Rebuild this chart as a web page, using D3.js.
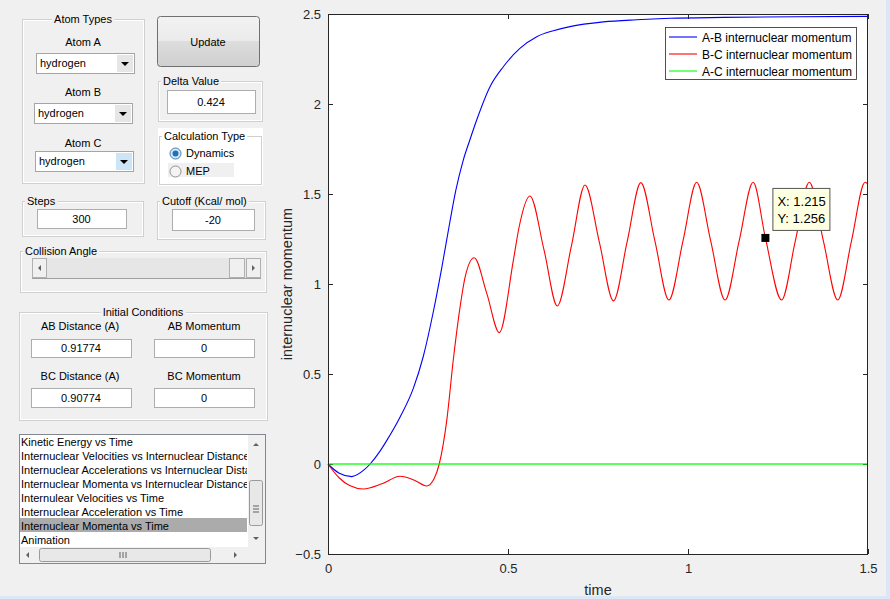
<!DOCTYPE html>
<html lang="en">
<head>
  <meta charset="UTF-8">
  <script src="https://d3js.org/d3.v7.min.js"></script>
  <title>Internuclear Momenta vs Time</title>
  <style>
    html, body { margin: 0; padding: 0; background: #f0f0f0; overflow: hidden; }
    text { font-family: "Liberation Sans", Arial, sans-serif; }
  </style>
</head>
<body>
  <script>
    // data
    const timeAB = [0, 0.03, 0.066, 0.1, 0.117, 0.144, 0.163, 0.2, 0.237, 0.265, 0.293, 0.316, 0.339, 0.355, 0.376, 0.394, 0.413, 0.45, 0.487, 0.533, 0.58, 0.626, 0.672, 0.765, 0.857, 0.95, 1.1, 1.3, 1.5]
    const momentumAB = [0, -0.05, -0.07, -0.033, 0, 0.07, 0.13, 0.26, 0.42, 0.6, 0.85, 1.09, 1.35, 1.52, 1.69, 1.8, 1.911, 2.096, 2.207, 2.309, 2.374, 2.407, 2.43, 2.456, 2.468, 2.476, 2.481, 2.485, 2.487]

    const timeBC = [0, 0.03, 0.06, 0.098, 0.15, 0.2, 0.24, 0.274, 0.295, 0.309, 0.33, 0.348, 0.367, 0.381, 0.406, 0.441, 0.476, 0.515, 0.531, 0.561, 0.6, 0.637, 0.676, 0.714, 0.754, 0.793, 0.831, 0.869, 0.908, 0.947, 0.986, 1.024, 1.063, 1.103, 1.142, 1.181, 1.215, 1.26, 1.298, 1.337, 1.376, 1.416, 1.454, 1.492, 1.5]
    const momentumBC = [0, -0.075, -0.12, -0.139, -0.11, -0.068, -0.09, -0.122, -0.08, 0, 0.244, 0.578, 0.874, 1.04, 1.146, 0.948, 0.73, 1.133, 1.318, 1.489, 1.19, 0.878, 1.21, 1.55, 1.23, 0.906, 1.235, 1.563, 1.24, 0.911, 1.238, 1.565, 1.24, 0.911, 1.238, 1.565, 1.256, 0.911, 1.238, 1.565, 1.24, 0.911, 1.238, 1.565, 1.555]

    const timeAC = [0, 1.5]
    const momentumAC = [0, 0]

    const seriesNames = ["A-B internuclear momentum", "B-C internuclear momentum", "A-C internuclear momentum"]
    const seriesColors = ["#0000ff", "#ff0000", "#00ff00"]
    const xTicks = [0, 0.5, 1, 1.5]
    const yTicks = [-0.5, 0, 0.5, 1, 1.5, 2, 2.5]
    const tipX = 1.215
    const tipY = 1.256

    const plotItems = ["Kinetic Energy vs Time", "Internuclear Velocities vs Internuclear Distance",
      "Internuclear Accelerations vs Internuclear Distance", "Internuclear Momenta vs Internuclear Distance",
      "Internulear Velocities vs Time", "Internuclear Acceleration vs Time",
      "Internuclear Momenta vs Time", "Animation"]

    const W = 890, H = 599
    const svg = d3.select("body").append("svg")
        .attr("width", W).attr("height", H)

    svg.append("rect").attr("width", W).attr("height", H).attr("fill", "#f0f0f0")
    // window frame edges
    svg.append("rect").attr("x", 0).attr("y", 596).attr("width", W).attr("height", 3).attr("fill", "#dbe7f4")
    svg.append("rect").attr("x", 886).attr("y", 0).attr("width", 4).attr("height", H).attr("fill", "#dbe7f4")

    // ---------- GUI widgets ----------
    const gui = svg.append("g").style("font-size", "11px")

    function panel(x, y, w, h, title, align, fill) {
      gui.append("rect").attr("x", x + 0.5).attr("y", y + 0.5).attr("width", w).attr("height", h)
          .attr("fill", fill || "none").attr("stroke", "#d0d0d0")
      gui.append("rect").attr("x", x + 1.5).attr("y", y + 1.5).attr("width", w - 2).attr("height", h - 2)
          .attr("fill", "none").attr("stroke", "#ffffff")
      const t = gui.append("text").attr("y", y + 4).attr("fill", "#000").text(title)
      if (align === "center") t.attr("x", x + w / 2).attr("text-anchor", "middle")
      else t.attr("x", x + 5)
      const bb = t.node().getBBox()
      gui.append("rect").attr("x", bb.x - 2).attr("y", y - 2).attr("width", bb.width + 4).attr("height", 5)
          .attr("fill", fill || "#f0f0f0")
      t.raise()
    }

    function label(x, y, s) {
      gui.append("text").attr("x", x).attr("y", y).attr("text-anchor", "middle").attr("fill", "#000").text(s)
    }

    function edit(x, y, w, h, s) {
      gui.append("rect").attr("x", x + 0.5).attr("y", y + 0.5).attr("width", w).attr("height", h)
          .attr("fill", "#fff").attr("stroke", "#adadad")
      gui.append("text").attr("x", x + w / 2).attr("y", y + h / 2 + 4).attr("text-anchor", "middle")
          .attr("fill", "#000").text(s)
    }

    function popup(x, y, w, h, s, hot) {
      gui.append("rect").attr("x", x + 0.5).attr("y", y + 0.5).attr("width", w).attr("height", h)
          .attr("fill", "#fff").attr("stroke", "#a5a5a5")
      gui.append("rect").attr("x", x + w - 17).attr("y", y + 2).attr("width", 16).attr("height", h - 3)
          .attr("fill", hot ? "#cde6f7" : "#e6e6e6")
      gui.append("path").attr("d", `M${x + w - 13},${y + h / 2 - 1}h8l-4,4z`).attr("fill", "#000")
      gui.append("text").attr("x", x + 4).attr("y", y + h / 2 + 4).attr("fill", "#000").text(s)
    }

    // Atom Types
    panel(22, 19, 122, 164, "Atom Types", "center")
    label(83, 46, "Atom A")
    popup(36, 53, 98, 20, "hydrogen")
    label(83, 96, "Atom B")
    popup(34, 103, 98, 20, "hydrogen")
    label(83, 147, "Atom C")
    popup(35, 151, 98, 20, "hydrogen", true)

    // Update button
    const grad = svg.append("defs").append("linearGradient").attr("id", "btn")
        .attr("x1", 0).attr("y1", 0).attr("x2", 0).attr("y2", 1)
    grad.append("stop").attr("offset", "0%").attr("stop-color", "#f2f2f2")
    grad.append("stop").attr("offset", "48%").attr("stop-color", "#ebebeb")
    grad.append("stop").attr("offset", "50%").attr("stop-color", "#dddddd")
    grad.append("stop").attr("offset", "100%").attr("stop-color", "#cfcfcf")
    gui.append("rect").attr("x", 157.5).attr("y", 16.5).attr("width", 102).attr("height", 50).attr("rx", 3)
        .attr("fill", "url(#btn)").attr("stroke", "#707070")
    label(208, 46, "Update")

    panel(158, 81, 104, 40, "Delta Value")
    edit(167, 90, 88, 23, "0.424")

    // Calculation Type
    gui.append("rect").attr("x", 158).attr("y", 128).attr("width", 105).attr("height", 58).attr("fill", "#fff")
    panel(159, 136, 102, 48, "Calculation Type", null, "#fff")
    gui.append("rect").attr("x", 168).attr("y", 163).attr("width", 66).attr("height", 14).attr("fill", "#f0f0f0")
    gui.append("circle").attr("cx", 175.5).attr("cy", 153.5).attr("r", 5.5).attr("fill", "#dbe6f0").attr("stroke", "#3c7fb1")
    gui.append("circle").attr("cx", 175.5).attr("cy", 153.5).attr("r", 3).attr("fill", "#1e6fc0")
    gui.append("circle").attr("cx", 175.5).attr("cy", 171.5).attr("r", 5.5).attr("fill", "#f4f4f4").attr("stroke", "#8e8f8f")
    gui.append("text").attr("x", 186).attr("y", 157).attr("fill", "#000").text("Dynamics")
    gui.append("text").attr("x", 186).attr("y", 175).attr("fill", "#000").text("MEP")

    panel(22, 201, 121, 35, "Steps")
    edit(37, 209, 89, 19, "300")
    panel(157, 201, 108, 38, "Cutoff (Kcal/ mol)")
    edit(172, 209, 82, 21, "-20")

    // Collision Angle slider
    panel(20, 251, 246, 41, "Collision Angle")
    gui.append("rect").attr("x", 32).attr("y", 258).attr("width", 229).attr("height", 20).attr("fill", "#e6e6e6")
    gui.append("line").attr("x1", 32).attr("x2", 261).attr("y1", 278.5).attr("y2", 278.5).attr("stroke", "#a0a0a0")
    gui.append("rect").attr("x", 32.5).attr("y", 258.5).attr("width", 14).attr("height", 19).attr("fill", "#f0f0f0").attr("stroke", "#b0b0b0")
    gui.append("rect").attr("x", 229.5).attr("y", 258.5).attr("width", 15).attr("height", 19).attr("fill", "#f0f0f0").attr("stroke", "#b0b0b0")
    gui.append("rect").attr("x", 246.5).attr("y", 258.5).attr("width", 14).attr("height", 19).attr("fill", "#f0f0f0").attr("stroke", "#b0b0b0")
    gui.append("path").attr("d", "M38,268l3,-3v6z").attr("fill", "#606060")
    gui.append("path").attr("d", "M255,268l-3,-3v6z").attr("fill", "#606060")

    // Initial Conditions
    panel(19, 312, 248, 108, "Initial Conditions", "center")
    label(80, 330, "AB Distance (A)")
    label(204, 330, "AB Momentum")
    edit(31, 339, 100, 18, "0.91774")
    edit(154, 339, 100, 18, "0")
    label(80, 380, "BC Distance (A)")
    label(204, 380, "BC Momentum")
    edit(31, 388, 100, 19, "0.90774")
    edit(154, 388, 100, 19, "0")

    // list box
    gui.append("rect").attr("x", 19.5).attr("y", 434.5).attr("width", 246).attr("height", 129)
        .attr("fill", "#fff").attr("stroke", "#828790")
    gui.append("rect").attr("x", 20).attr("y", 518).attr("width", 227).attr("height", 14).attr("fill", "#ababab")
    const clip = svg.append("clipPath").attr("id", "listclip")
    clip.append("rect").attr("x", 20).attr("y", 435).attr("width", 227).attr("height", 112)
    gui.append("g").attr("clip-path", "url(#listclip)")
      .selectAll("text").data(plotItems).join("text")
        .attr("x", 21).attr("y", (d, i) => 446 + i * 14)
        .attr("fill", "#000").text(d => d)
    // scrollbars
    gui.append("rect").attr("x", 248).attr("y", 435).attr("width", 17).attr("height", 112).attr("fill", "#f0f0f0")
    gui.append("rect").attr("x", 249.5).attr("y", 480.5).attr("width", 13).attr("height", 45).attr("rx", 2)
        .attr("fill", "#e8e8e8").attr("stroke", "#9a9a9a")
    gui.append("path").attr("d", "M253,512h6M253,509h6M253,506h6").attr("stroke", "#606060")
    gui.append("path").attr("d", "M256,443l-3,3h6z").attr("fill", "#606060")
    gui.append("path").attr("d", "M256,540l-3,-3h6z").attr("fill", "#606060")
    gui.append("rect").attr("x", 20).attr("y", 547).attr("width", 245).attr("height", 16).attr("fill", "#f0f0f0")
    gui.append("rect").attr("x", 39.5).attr("y", 548.5).attr("width", 171).attr("height", 13).attr("rx", 2)
        .attr("fill", "#e8e8e8").attr("stroke", "#9a9a9a")
    gui.append("path").attr("d", "M120,552v6M123,552v6M126,552v6").attr("stroke", "#606060")
    gui.append("path").attr("d", "M26,555l3,-3v6z").attr("fill", "#606060")
    gui.append("path").attr("d", "M237,555l-3,-3v6z").attr("fill", "#606060")

    // ---------- Plot ----------
    const dim = { left: 328, top: 14, width: 540, height: 540 }

    const xScale = d3.scaleLinear().domain([0, 1.5]).range([0, dim.width])
    const yScale = d3.scaleLinear().domain([-0.5, 2.5]).range([dim.height, 0])

    const bounds = svg.append("g").attr("transform", `translate(${dim.left},${dim.top})`)
    bounds.append("rect").attr("width", dim.width).attr("height", dim.height).attr("fill", "#fff")

    const axisColor = "#262626"
    function styleAxis(g) {
      g.select(".domain").remove()
      g.selectAll("line").attr("stroke", axisColor)
      g.selectAll("text").attr("fill", axisColor).style("font-size", "13px")
        .style("font-family", "'Liberation Sans', Arial, sans-serif")
    }

    bounds.append("g").attr("transform", `translate(0,${dim.height})`)
        .call(d3.axisBottom(xScale).tickValues(xTicks).tickSize(-5).tickPadding(10).tickFormat(d3.format("")))
        .call(styleAxis)
    bounds.append("g")
        .call(d3.axisLeft(yScale).tickValues(yTicks).tickSize(-5).tickPadding(7).tickFormat(d3.format("")))
        .call(styleAxis)
    bounds.append("g")
        .call(d3.axisTop(xScale).tickValues(xTicks).tickSize(-5).tickFormat(""))
        .call(styleAxis)
    bounds.append("g").attr("transform", `translate(${dim.width},0)`)
        .call(d3.axisRight(yScale).tickValues(yTicks).tickSize(-5).tickFormat(""))
        .call(styleAxis)

    const series = [
      { t: timeAB, v: momentumAB },
      { t: timeBC, v: momentumBC },
      { t: timeAC, v: momentumAC }
    ]
    const line = d3.line()
        .x(d => xScale(d[0]))
        .y(d => yScale(d[1]))
        .curve(d3.curveMonotoneX)

    series.forEach((s, i) => {
      bounds.append("path")
          .attr("d", line(d3.zip(s.t, s.v)))
          .attr("fill", "none")
          .attr("stroke", seriesColors[i])
          .attr("stroke-width", i === 2 ? 1.6 : 1.1)
          .attr("stroke-opacity", i === 2 ? 0.85 : 1)
    })

    bounds.append("rect").attr("x", 0.5).attr("y", 0.5).attr("width", dim.width - 1).attr("height", dim.height)
        .attr("fill", "none").attr("stroke", axisColor)

    // axis labels
    svg.append("text").attr("x", dim.left + dim.width / 2).attr("y", 595).attr("text-anchor", "middle")
        .attr("fill", axisColor).style("font-size", "14.5px").text("time")
    svg.append("text").attr("transform", `translate(292,${dim.top + dim.height / 2}) rotate(-90)`)
        .attr("text-anchor", "middle").attr("fill", axisColor).style("font-size", "14.5px")
        .text("internuclear momentum")

    // legend
    const legend = svg.append("g").attr("transform", "translate(665,27)")
    legend.append("rect").attr("x", 0.5).attr("y", 0.5).attr("width", 191).attr("height", 52)
        .attr("fill", "#fff").attr("stroke", axisColor).attr("stroke-width", 0.8)
    seriesNames.forEach((name, i) => {
      const yy = 10 + i * 17
      legend.append("line").attr("x1", 4).attr("x2", 32).attr("y1", yy).attr("y2", yy)
          .attr("stroke", seriesColors[i]).attr("stroke-width", 1.1)
      legend.append("text").attr("x", 37).attr("y", yy + 4.5).attr("fill", "#000")
          .style("font-size", "12px").text(name)
    })

    // data tip
    const tx = xScale(tipX), ty = yScale(tipY)
    bounds.append("rect").attr("x", tx - 4).attr("y", ty - 4).attr("width", 8).attr("height", 8).attr("fill", "#000")
    const tip = bounds.append("g").attr("transform", `translate(${tx + 7},${ty - 50})`)
    tip.append("rect").attr("x", 0.5).attr("y", 0.5).attr("width", 57).attr("height", 42)
        .attr("fill", "#ffffe1").attr("stroke", "#555")
    tip.append("text").attr("x", 5).attr("y", 18).attr("fill", "#000").style("font-size", "13px").text("X: " + tipX)
    tip.append("text").attr("x", 5).attr("y", 35).attr("fill", "#000").style("font-size", "13px").text("Y: " + tipY)
  </script>
</body>
</html>
